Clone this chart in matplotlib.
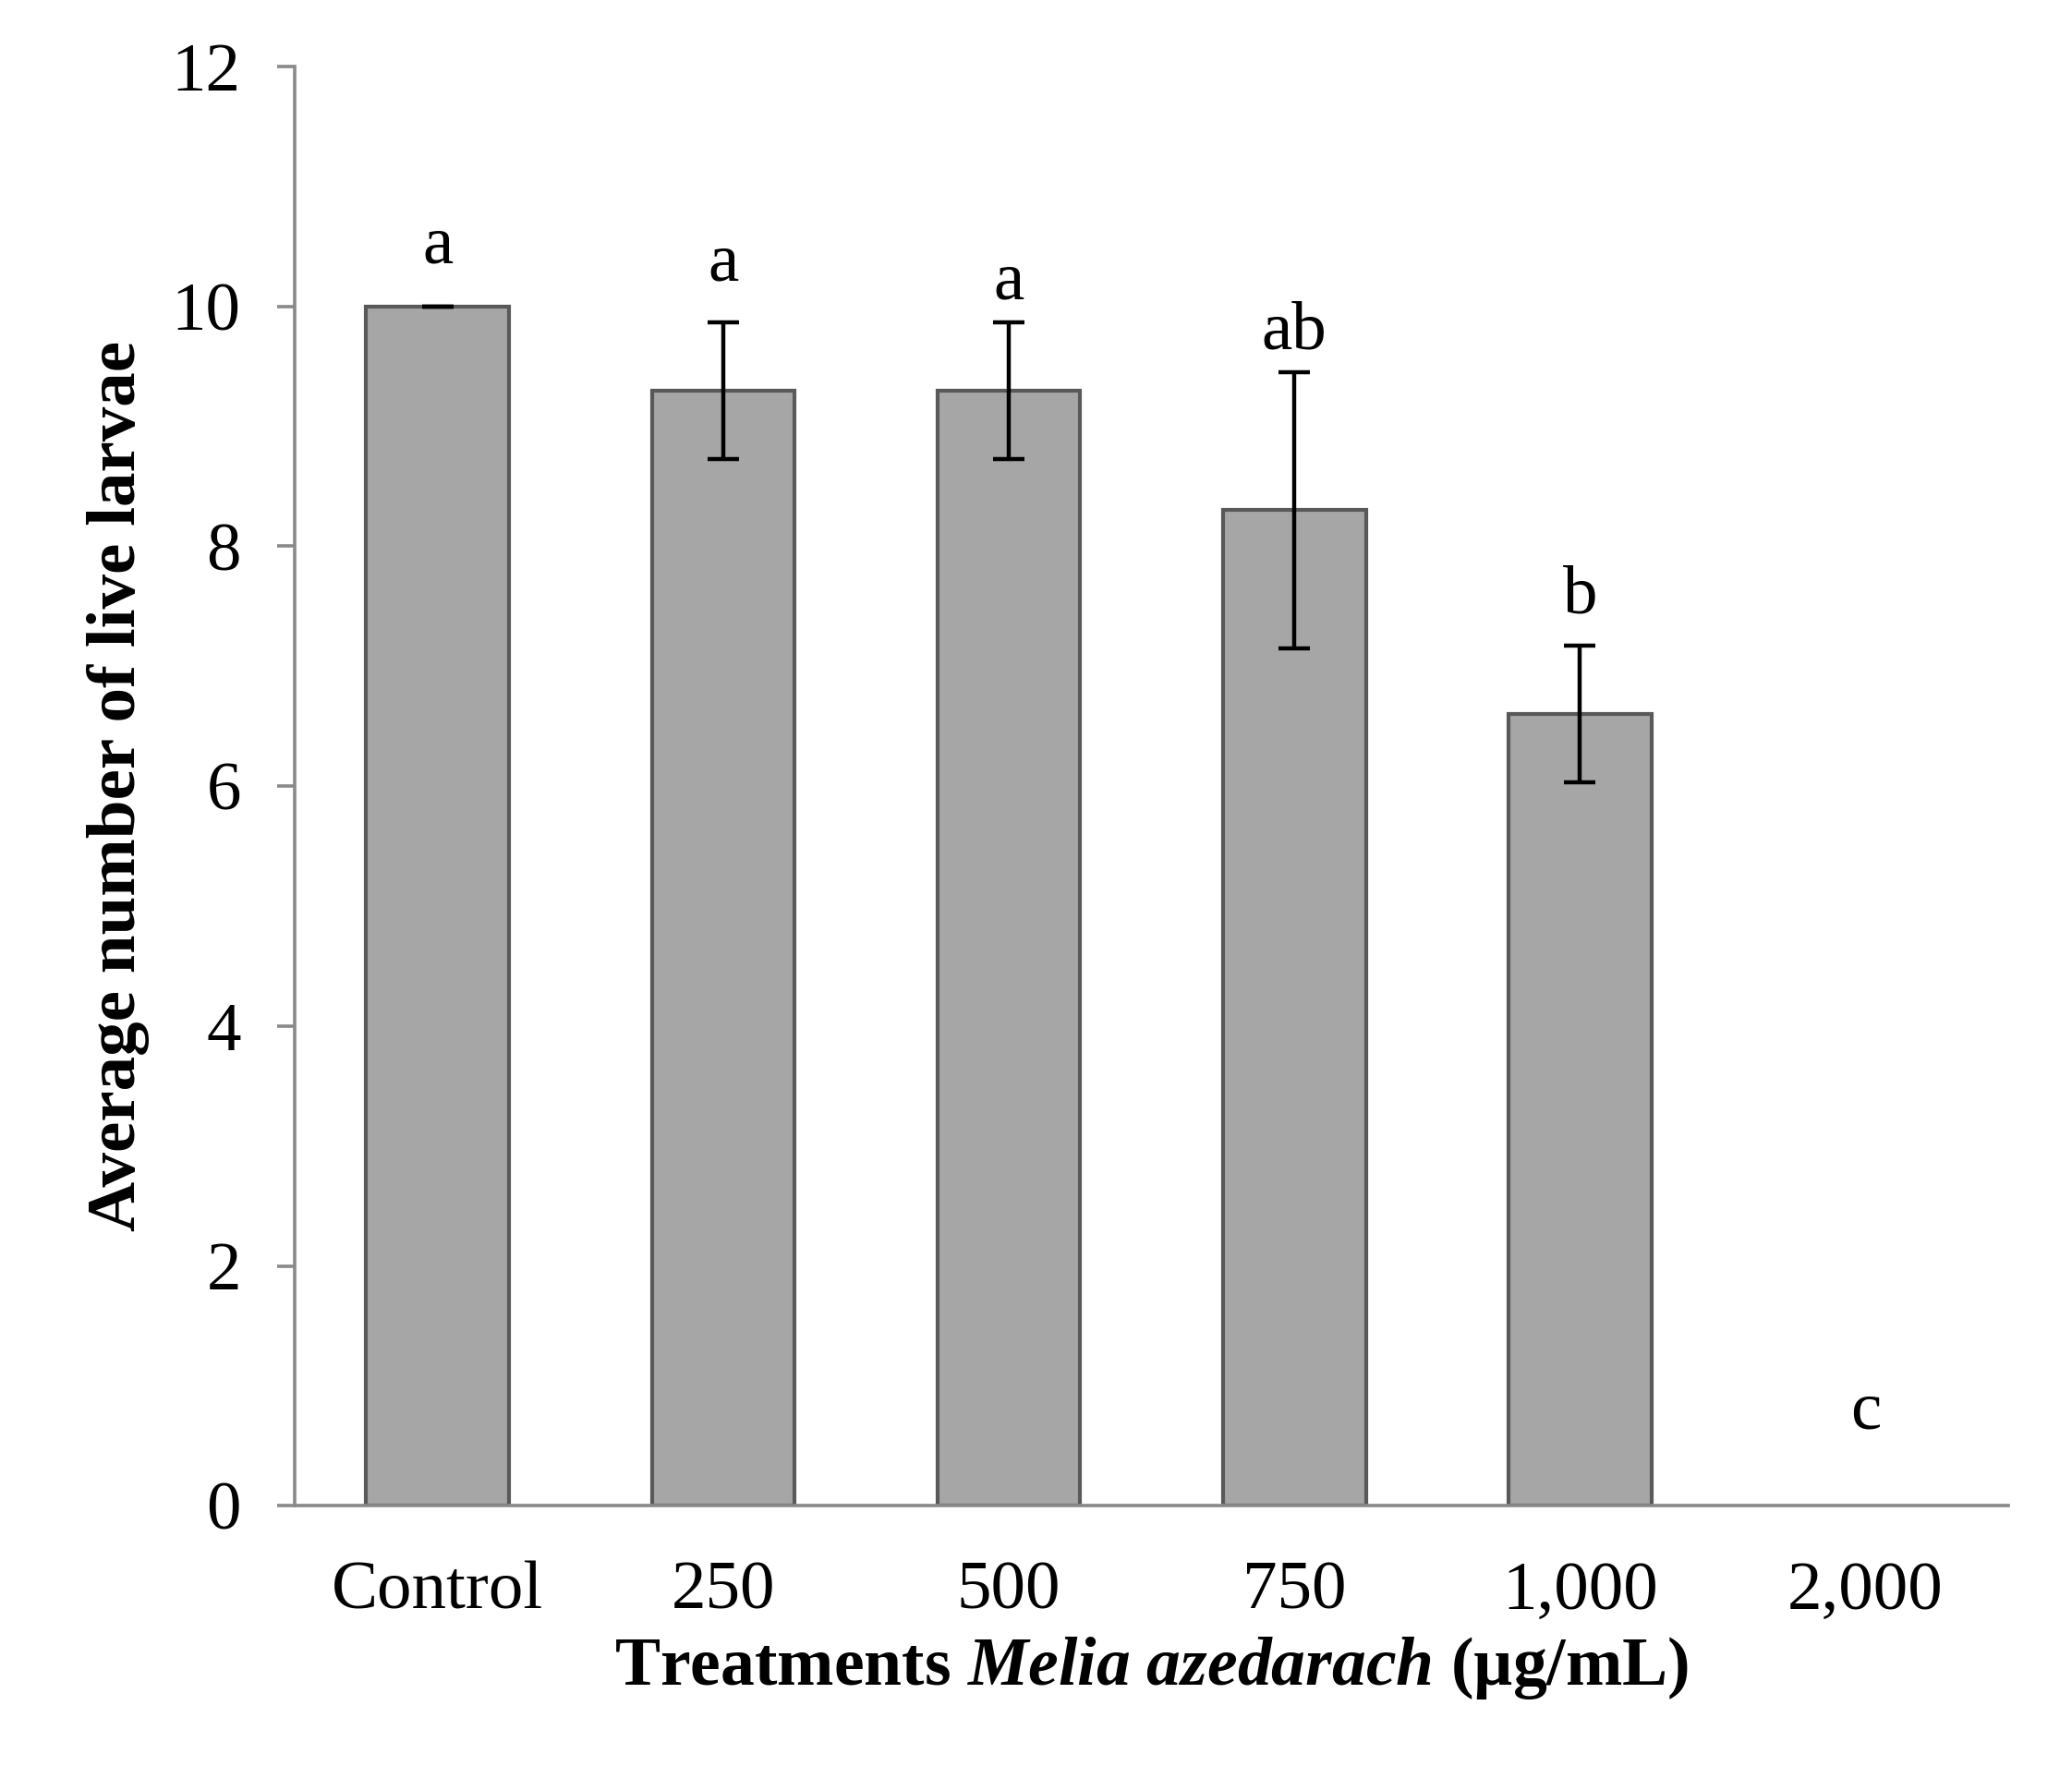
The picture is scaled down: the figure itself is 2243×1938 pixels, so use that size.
import matplotlib
matplotlib.use("Agg")
import matplotlib.pyplot as plt

categories = ["Control", "250", "500", "750", "1,000", "2,000"]
values = [10.0, 9.3, 9.3, 8.3, 6.6, 0.0]
errors = [0.0, 0.57, 0.57, 1.15, 0.57, None]
letters = ["a", "a", "a", "ab", "b", "c"]
letter_y = [10.5, 10.35, 10.2, 9.78, 7.58, 0.78]
yticks = [0, 2, 4, 6, 8, 10, 12]

plt.rcParams['font.family'] = ['Liberation Serif', 'DejaVu Serif']
plt.rcParams['mathtext.fontset'] = 'custom'
plt.rcParams['mathtext.rm'] = 'Liberation Serif'
plt.rcParams['mathtext.it'] = 'Liberation Serif:italic'
plt.rcParams['mathtext.bf'] = 'Liberation Serif:bold'
plt.rcParams['mathtext.bfit'] = 'Liberation Serif:italic:bold'

fig = plt.figure(figsize=(11.215, 9.69), dpi=200)
ax = fig.add_axes([0.1423, 0.1588, 0.827, 0.8041])

x = list(range(len(categories)))
lw = [1.5 if v > 0 else 0 for v in values]
ax.bar(x, values, width=0.5, color="#A6A6A6", edgecolor="#595959", linewidth=lw, zorder=2)
ex = [i for i, e in enumerate(errors) if e is not None]
ax.errorbar(ex, [values[i] for i in ex], yerr=[errors[i] for i in ex], fmt="none",
            ecolor="black", elinewidth=1.6, capsize=6, capthick=1.6, zorder=3)
for i, (lab, ly) in enumerate(zip(letters, letter_y)):
    ax.text(i, ly, lab, ha="center", va="center", fontsize=27)

ax.set_xlim(-0.5, 5.5)
ax.set_ylim(0, 12)
ax.set_yticks(yticks)
ax.set_xticks(x)
ax.set_xticklabels(categories)
for s in ["top", "right"]:
    ax.spines[s].set_visible(False)
for s in ["left", "bottom"]:
    ax.spines[s].set_color("#898989")
    ax.spines[s].set_linewidth(1.3)
ax.tick_params(axis="y", length=7, width=1.3, color="#898989", labelsize=27, pad=14)
ax.tick_params(axis="x", length=0, labelsize=27, pad=21.5)

ax.set_ylabel("Average number of live larvae", fontsize=27, fontweight="bold", labelpad=8.5)
ax.set_xlabel(r"Treatments $\bfit{Melia\ azedarach}$ (µg/mL)", fontsize=26.5, fontweight="bold", labelpad=4.5)

fig.savefig("out.png", dpi=200, facecolor="white")
